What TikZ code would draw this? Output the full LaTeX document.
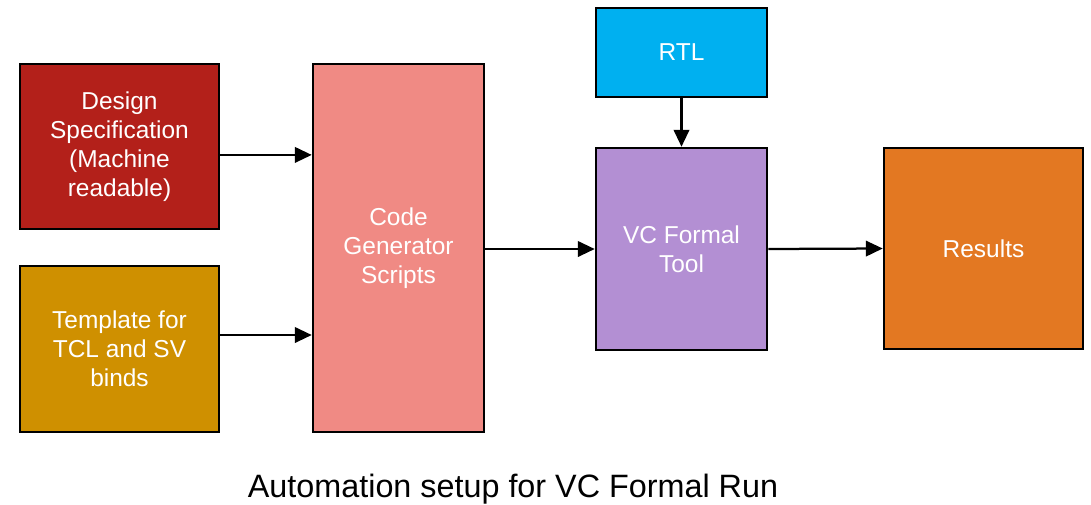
\documentclass[tikz,border=0pt]{standalone}
\usepackage{fontspec}
\setmainfont{Liberation Sans}
\usetikzlibrary{arrows.meta,positioning}
\definecolor{specred}{HTML}{B3201A}
\definecolor{tmplgold}{HTML}{CF9000}
\definecolor{codepink}{HTML}{F08A84}
\definecolor{rtlblue}{HTML}{00B0F0}
\definecolor{vcpurple}{HTML}{B38FD3}
\definecolor{resorange}{HTML}{E37822}

\begin{document}
\begin{tikzpicture}[
  box/.style={draw=black, line width=1.8pt, text=white, align=center,
    inner sep=0pt, font=\fontsize{17.4}{20.6}\selectfont},
  arr/.style={-{Triangle[length=12pt,width=11pt]}, line width=1.6pt}
]
\useasboundingbox (0,0) rectangle (27.275,-12.6);

% inputs
\node[box, fill=specred, minimum width=4.975cm, minimum height=4.125cm] (spec) at (2.9875,-3.6625)
  {Design\\Specification\\(Machine\\readable)};
\node[box, fill=tmplgold, minimum width=4.975cm, minimum height=4.15cm] (tmpl) at (2.9875,-8.725)
  {Template for\\TCL and SV\\binds};

% generator and tool
\node[box, fill=codepink, minimum width=4.275cm, minimum height=9.2cm] (code) at (9.9625,-6.2)
  {Code\\Generator\\Scripts};
\node[box, fill=rtlblue, minimum width=4.275cm, minimum height=2.225cm] (rtl) at (17.0375,-1.3125) {RTL};
\node[box, fill=vcpurple, minimum width=4.275cm, minimum height=5.05cm] (vc) at (17.0375,-6.225)
  {VC Formal\\Tool};
\node[box, fill=resorange, minimum width=4.975cm, minimum height=5.025cm] (res) at (24.5875,-6.2125) {Results};

% connectors
\coordinate (s1) at ([yshift=-0.21cm]spec.east);
\coordinate (t1) at ([yshift=0.35cm]tmpl.east);
\draw[arr] (s1) -- (s1 -| code.west);
\draw[arr] (t1) -- (t1 -| code.west);
\draw[arr] (code.east |- vc.west) -- (vc.west);
\draw[arr] (rtl.south) -- (vc.north);
\draw[arr] (vc.east) -- (res.west);

\node[font=\fontsize{23}{27}\selectfont, anchor=base] (cap) at (12.825,-12.425)
  {Automation setup for VC Formal Run};
\end{tikzpicture}
\end{document}
